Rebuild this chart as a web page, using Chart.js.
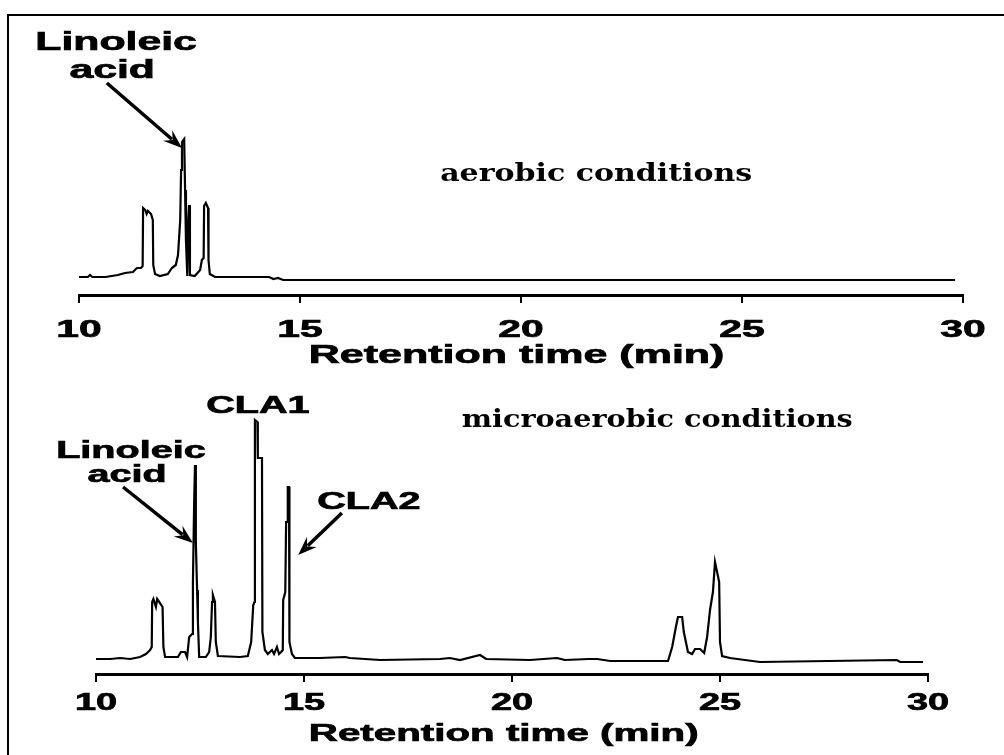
<!DOCTYPE html>
<html>
<head>
<meta charset="utf-8">
<script src="https://cdn.jsdelivr.net/npm/chart.js@4.4.1/dist/chart.umd.min.js"></script>
<style>
  body { margin: 0; background: #fff; }
  #frame { position: absolute; left: 7px; top: 14px; width: 1000px; height: 745px;
           border-left: 2px solid #000; border-top: 2px solid #000; }
  canvas { position: absolute; left: 0; }
  #aerobic { top: 0; }
  #micro { top: 375px; }
</style>
</head>
<body>
<div id="frame"></div>
<canvas id="aerobic" width="1004" height="375"></canvas>
<canvas id="micro" width="1004" height="380"></canvas>
<script>
// retention time axis
const xTicks = [10, 15, 20, 25, 30];
const axisTitle = 'Retention time (min)';

// aerobic run: retention time (min) / detector signal
const aerobicTime = [10.0, 10.2, 10.25, 10.3, 10.6, 10.88, 11.04, 11.22, 11.31, 11.40,
  11.44, 11.45, 11.50, 11.53, 11.56, 11.63, 11.67, 11.68, 11.72, 11.83,
  12.01, 12.1, 12.19, 12.24, 12.29, 12.31, 12.33, 12.38, 12.4, 12.42,
  12.45, 12.47, 12.49, 12.51, 12.62, 12.74, 12.78, 12.82, 12.83, 12.87,
  12.92, 12.93, 12.96, 13.08, 14.3, 14.4, 14.5, 14.62, 29.82];
const aerobicSignal = [3, 3, 5, 3, 3, 5, 7, 8, 12, 12,
  14, 72, 70, 66, 69, 66, 60, 15, 6, 4,
  6, 12, 15, 25, 60, 110, 138, 141, 90, 40,
  4, 60, 75, 5, 4, 10, 20, 22, 74, 77,
  72, 20, 6, 3, 3, 1, 2, 0, 0];

// microaerobic run
const microTime = [10.0, 10.34, 10.58, 10.82, 11.06, 11.2, 11.3, 11.34, 11.35, 11.38,
  11.44, 11.47, 11.52, 11.6, 11.62, 11.66, 11.71, 11.97, 12.04, 12.14,
  12.19, 12.24, 12.31, 12.33, 12.36, 12.38, 12.4, 12.43, 12.45, 12.48,
  12.64, 12.72, 12.76, 12.79, 12.81, 12.86, 12.88, 12.93, 13.46, 13.65,
  13.73, 13.78, 13.81, 13.82, 13.88, 13.89, 13.99, 14.0, 14.06, 14.13,
  14.23, 14.28, 14.35, 14.4, 14.45, 14.49, 14.5, 14.55, 14.57, 14.6,
  14.61, 14.64, 14.65, 14.71, 14.78, 15.38, 15.99, 16.1, 16.83, 18.27,
  18.51, 18.75, 19.23, 19.38, 20.43, 21.08, 21.27, 21.85, 22.05, 22.36,
  23.75, 23.85, 23.94, 23.99, 24.09, 24.13, 24.23, 24.33, 24.4, 24.52,
  24.62, 24.69, 24.76, 24.83, 24.88, 24.93, 24.98, 25.0, 25.05, 25.24,
  25.96, 29.25, 29.33, 29.88];
const microSignal = [3, 3, 4, 3, 5, 8, 12, 15, 60, 63,
  55, 63, 60, 55, 15, 5, 5, 5, 10, 10,
  5, 25, 28, 80, 160, 197, 120, 72, 40, 5,
  5, 10, 25, 60, 67, 60, 20, 6, 5, 6,
  20, 57, 60, 242, 240, 204, 204, 30, 12, 8,
  12, 8, 15, 8, 10, 12, 62, 70, 140, 140,
  175, 175, 20, 8, 4, 4, 5, 4, 2, 3,
  4, 2, 7, 3, 2, 4, 2, 3, 3, 1,
  1, 15, 35, 45, 45, 30, 10, 8, 13, 13,
  9, 25, 52, 70, 100, 90, 80, 20, 6, 4,
  0, 2, 0, 0];

const sans = '"Liberation Sans", Arial, sans-serif';
const serif = '"DejaVu Serif", serif';

// the old figure's lettering is squeezed wide, so text is drawn with a horizontal scale
function wideText(ctx, text, x, y, font, sx, heavy) {
  ctx.save();
  ctx.font = font;
  ctx.translate(x, y);
  ctx.scale(sx, 1);
  ctx.textAlign = 'center';
  ctx.textBaseline = 'alphabetic';
  ctx.fillText(text, 0, 0);
  if (heavy) {
    ctx.lineWidth = 0.7;
    ctx.strokeStyle = '#000';
    ctx.strokeText(text, 0, 0);
  }
  ctx.restore();
}

function fitText(ctx, text, x, y, font, width) {
  ctx.save();
  ctx.font = font;
  const w = ctx.measureText(text).width;
  ctx.restore();
  wideText(ctx, text, x, y, font, width / w, false);
}

function arrow(ctx, x0, y0, x1, y1) {
  const a = Math.atan2(y1 - y0, x1 - x0);
  const head = 19, half = 7;
  ctx.save();
  ctx.strokeStyle = '#000';
  ctx.fillStyle = '#000';
  ctx.lineWidth = 3.5;
  ctx.beginPath();
  ctx.moveTo(x0, y0);
  ctx.lineTo(x1 - head * 0.7 * Math.cos(a), y1 - head * 0.7 * Math.sin(a));
  ctx.stroke();
  ctx.translate(x1, y1);
  ctx.rotate(a);
  ctx.beginPath();
  ctx.moveTo(0, 0);
  ctx.lineTo(-head, -half);
  ctx.lineTo(-head * 0.65, 0);
  ctx.lineTo(-head, half);
  ctx.closePath();
  ctx.fill();
  ctx.restore();
}

// tick numbers, axis title, peak names, arrows and the run condition
const notesPlugin = {
  id: 'notes',
  afterDraw(chart, args, opts) {
    const { ctx } = chart;
    const x = chart.scales.x, y = chart.scales.y;
    const px = t => x.getPixelForValue(t);
    const py = v => y.getPixelForValue(v);
    ctx.save();
    ctx.fillStyle = '#000';
    x.ticks.forEach(tk => {
      wideText(ctx, String(tk.value), px(tk.value), x.top + opts.tickGap,
        `bold ${opts.tickSize}px ${sans}`, opts.tickSx, true);
    });
    wideText(ctx, axisTitle, px(opts.titleAt), x.top + opts.titleGap,
      `bold ${opts.titleSize}px ${sans}`, opts.titleSx, true);
    opts.labels.forEach(l => {
      wideText(ctx, l.text, px(l.t), py(l.v), `bold ${l.size}px ${sans}`, opts.labelSx, true);
    });
    opts.arrows.forEach(a => {
      arrow(ctx, px(a.from[0]), py(a.from[1]), px(a.to[0]), py(a.to[1]));
    });
    const c = opts.condition;
    fitText(ctx, c.text, px(c.t), py(c.v), `bold 24px ${serif}`, c.width);
    ctx.restore();
  }
};

function makeChart(id, time, signal, yRange, pad, notes) {
  return new Chart(document.getElementById(id), {
    type: 'line',
    data: {
      datasets: [{
        data: time.map((t, i) => ({ x: t, y: signal[i] })),
        borderColor: '#000',
        borderWidth: 2.2,
        borderJoinStyle: 'miter',
        pointRadius: 0,
        tension: 0,
        fill: false
      }]
    },
    options: {
      responsive: false,
      animation: false,
      devicePixelRatio: 1,
      layout: { padding: pad },
      plugins: {
        legend: { display: false },
        tooltip: { enabled: false },
        notes: notes
      },
      scales: {
        x: {
          type: 'linear',
          min: 10,
          max: 30,
          afterBuildTicks: s => { s.ticks = xTicks.map(v => ({ value: v })); },
          afterFit: s => { s.height = 60; },
          ticks: { display: false },
          grid: { drawOnChartArea: false, drawTicks: true, tickLength: 8, lineWidth: 2, color: '#000' },
          border: { display: true, color: '#000', width: 3 }
        },
        y: { display: false, min: yRange[0], max: yRange[1] }
      }
    },
    plugins: [notesPlugin]
  });
}

makeChart('aerobic', aerobicTime, aerobicSignal, [-15, 260],
  { left: 79, right: 41, top: 20, bottom: 20 },
  {
    tickGap: 42, tickSize: 24, tickSx: 1.7,
    titleAt: 19.9, titleGap: 68, titleSize: 25, titleSx: 1.72,
    labelSx: 1.71,
    labels: [
      { text: 'Linoleic', t: 10.84, v: 230, size: 25 },
      { text: 'acid', t: 10.75, v: 202, size: 25 }
    ],
    arrows: [{ from: [10.63, 197], to: [12.33, 132] }],
    condition: { text: 'aerobic conditions', t: 21.7, v: 99, width: 312 }
  });

makeChart('micro', microTime, microSignal, [-12, 272],
  { left: 96, right: 76, top: 15, bottom: 21 },
  {
    tickGap: 36, tickSize: 23, tickSx: 1.65,
    titleAt: 19.8, titleGap: 67, titleSize: 24, titleSx: 1.68,
    labelSx: 1.72,
    labels: [
      { text: 'Linoleic', t: 10.84, v: 204, size: 23 },
      { text: 'acid', t: 10.75, v: 180, size: 23 },
      { text: 'CLA1', t: 13.89, v: 249, size: 23 },
      { text: 'CLA2', t: 16.56, v: 153, size: 23 }
    ],
    arrows: [
      { from: [10.65, 175], to: [12.33, 119] },
      { from: [15.91, 149], to: [14.86, 107] }
    ],
    condition: { text: 'microaerobic conditions', t: 23.49, v: 235, width: 391 }
  });
</script>
</body>
</html>
